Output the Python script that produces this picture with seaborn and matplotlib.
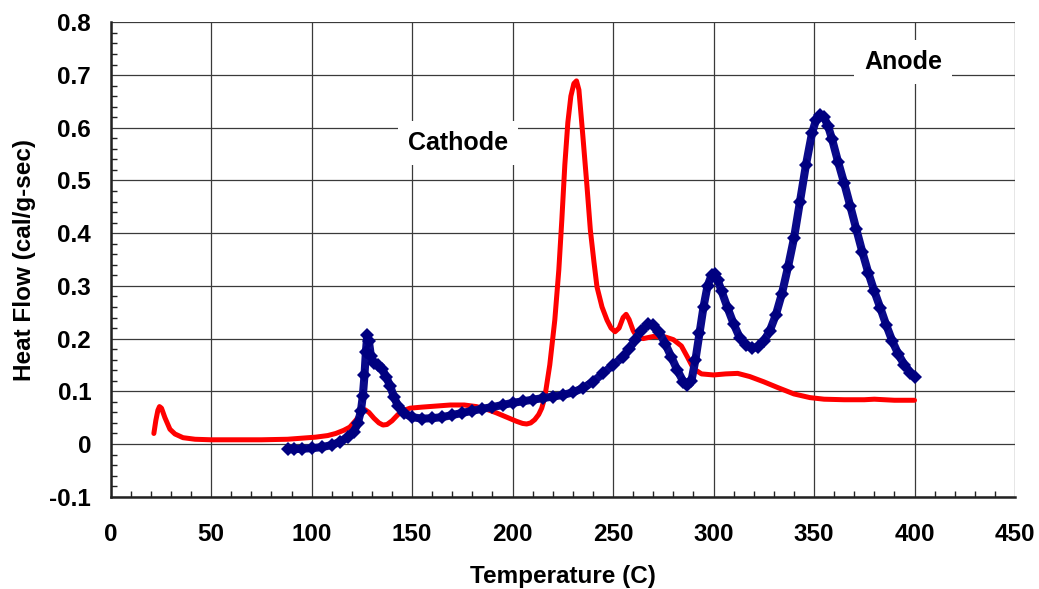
import matplotlib
matplotlib.use("Agg")
import matplotlib.pyplot as plt
from matplotlib.ticker import MultipleLocator
import seaborn as sns
import pandas as pd

# Cathode (red) curve
cathode_t = [21.5, 22.5, 23.5, 24.3, 25.3, 27, 29.5, 32, 36, 42, 50, 60, 75, 88, 95, 102, 108, 112,
             116, 119, 122, 124.5, 126.6, 128.5, 131, 133.5, 135.5, 137.5, 140, 143, 146, 149, 155,
             162, 169, 176, 182, 187, 192, 197, 202, 205, 207, 209, 211, 213, 214.5, 216, 218.5,
             221, 223, 224.5, 226, 227.5, 229, 230.5, 231.8, 233, 235, 237, 238.7, 240.5, 242, 244.5,
             247, 249, 251, 253, 255, 256.5, 258, 260, 262, 265, 270, 276, 280, 284, 287, 290,
             294, 300, 306, 312, 318, 325, 332, 340, 348, 355, 365, 375, 380, 390, 400]
cathode_hf = [0.020, 0.045, 0.064, 0.071, 0.068, 0.050, 0.028, 0.019, 0.012, 0.009, 0.008, 0.008,
              0.008, 0.009, 0.011, 0.013, 0.016, 0.020, 0.026, 0.032, 0.045, 0.058, 0.065, 0.060,
              0.049, 0.040, 0.036, 0.037, 0.044, 0.056, 0.064, 0.068, 0.070, 0.072, 0.074, 0.074,
              0.071, 0.066, 0.059, 0.051, 0.043, 0.039, 0.038, 0.040, 0.046, 0.056, 0.068, 0.088,
              0.150, 0.235, 0.330, 0.425, 0.530, 0.610, 0.660, 0.684, 0.689, 0.672, 0.583, 0.490, 0.406,
              0.345, 0.298, 0.260, 0.235, 0.220, 0.213, 0.220, 0.240, 0.246, 0.236, 0.215, 0.203,
              0.200, 0.204, 0.203, 0.198, 0.186, 0.165, 0.143, 0.133, 0.131, 0.133, 0.134, 0.128,
              0.118, 0.107, 0.095, 0.088, 0.085, 0.084, 0.084, 0.085, 0.083, 0.083]

# Anode (blue) curve
anode_t = [88, 91, 95, 100, 105, 110, 114, 118, 121, 123, 124.5, 125.5, 126.3, 127, 127.7, 128.5,
           129.5, 131, 133, 135, 137, 139, 141, 143, 146, 150, 155, 160, 165, 170, 175, 180, 185,
           190, 195, 200, 205, 210, 215, 220, 225, 230, 235, 240, 245, 250, 255, 258, 261, 264,
           267.5, 270, 273, 276, 279, 282, 285, 287, 289, 291, 293, 295, 297, 299, 300.5, 302, 304,
           307, 310, 313, 316, 319, 322, 325, 328, 331, 334, 337, 340, 343, 346, 349, 351, 353, 355,
           357, 359, 362, 365, 368, 371, 374, 377, 380, 383, 386, 389, 392, 395, 398, 400]
anode_hf = [-0.010, -0.010, -0.009, -0.008, -0.006, -0.002, 0.004, 0.013, 0.023, 0.040, 0.062,
            0.092, 0.130, 0.175, 0.207, 0.195, 0.167, 0.153, 0.150, 0.143, 0.128, 0.111, 0.089,
            0.072, 0.058, 0.051, 0.048, 0.049, 0.051, 0.055, 0.059, 0.063, 0.067, 0.070, 0.074,
            0.078, 0.081, 0.084, 0.087, 0.090, 0.093, 0.098, 0.106, 0.118, 0.134, 0.150, 0.165,
            0.180, 0.198, 0.215, 0.228, 0.225, 0.212, 0.190, 0.165, 0.140, 0.118, 0.112, 0.120,
            0.160, 0.210, 0.260, 0.300, 0.320, 0.322, 0.312, 0.290, 0.258, 0.228, 0.202, 0.188,
            0.182, 0.184, 0.195, 0.215, 0.245, 0.285, 0.335, 0.390, 0.460, 0.530, 0.590, 0.615,
            0.625, 0.620, 0.603, 0.578, 0.535, 0.495, 0.452, 0.408, 0.365, 0.325, 0.290, 0.258,
            0.225, 0.195, 0.170, 0.150, 0.135, 0.127]

x_ticks = [0, 50, 100, 150, 200, 250, 300, 350, 400, 450]
y_ticks = [-0.1, 0, 0.1, 0.2, 0.3, 0.4, 0.5, 0.6, 0.7, 0.8]
y_tick_labels = ["-0.1", "0", "0.1", "0.2", "0.3", "0.4", "0.5", "0.6", "0.7", "0.8"]

sns.set_style("white")
plt.rcParams["font.family"] = ["Liberation Sans", "DejaVu Sans"]
plt.rcParams["text.color"] = "black"
plt.rcParams["axes.labelcolor"] = "black"
plt.rcParams["xtick.color"] = "black"
plt.rcParams["ytick.color"] = "black"

fig = plt.figure(figsize=(10.39, 5.89), dpi=100)
ax = fig.add_axes([0.1065, 0.1567, 0.8704, 0.8053])

cath = pd.DataFrame({"t": cathode_t, "hf": cathode_hf})
anod = pd.DataFrame({"t": anode_t, "hf": anode_hf})

sns.lineplot(data=cath, x="t", y="hf", ax=ax, color="#ff0000", linewidth=3.6,
             sort=False, estimator=None, zorder=3)
sns.lineplot(data=anod, x="t", y="hf", ax=ax, color="#0a0a8a", linewidth=5.8,
             sort=False, estimator=None, zorder=4)
sns.lineplot(data=anod, x="t", y="hf", ax=ax, color="#000080", linewidth=0,
             marker="D", markersize=7, markeredgewidth=0, sort=False, estimator=None, zorder=5)

ax.set_xlim(0, 450)
ax.set_ylim(-0.1, 0.8)
ax.set_xticks(x_ticks)
ax.set_yticks(y_ticks)
ax.set_yticklabels(y_tick_labels)
ax.xaxis.set_minor_locator(MultipleLocator(10))
ax.yaxis.set_minor_locator(MultipleLocator(0.02))

ax.grid(True, which="major", color="#3a3a3a", linewidth=0.9)
ax.set_axisbelow(True)

for side in ["top", "right"]:
    ax.spines[side].set_visible(False)
for side in ["left", "bottom"]:
    ax.spines[side].set_color("#222222")
    ax.spines[side].set_linewidth(1.8)
    ax.spines[side].set_zorder(6)

ax.tick_params(axis="x", which="major", direction="in", length=0, pad=19,
               labelsize=17.5, labelcolor="black")
ax.tick_params(axis="y", which="major", direction="in", length=0, pad=14,
               labelsize=17.5, labelcolor="black")
ax.tick_params(which="minor", direction="in", length=4, width=1.0, color="#222222",
               bottom=True, left=True)
for lab in ax.get_xticklabels() + ax.get_yticklabels():
    lab.set_fontweight("bold")

ax.set_xlabel("Temperature (C)", fontsize=17.5, fontweight="bold", color="black")
ax.set_ylabel("Heat Flow (cal/g-sec)", fontsize=17.5, fontweight="bold", color="black")
ax.xaxis.label.set_va("center")
ax.yaxis.label.set_va("center")
ax.xaxis.set_label_coords(0.5, -0.169)
ax.yaxis.set_label_coords(-0.0948, 0.5)

box = dict(boxstyle="square,pad=0.4", facecolor="white", edgecolor="none")
ax.text(172.8, 0.572, "Cathode", fontsize=18, fontweight="bold", ha="center",
        va="center", bbox=box, zorder=7, color="black")
ax.text(394.3, 0.725, "Anode", fontsize=18, fontweight="bold", ha="center",
        va="center", bbox=box, zorder=7, color="black")

fig.savefig("out.png", dpi=100)
